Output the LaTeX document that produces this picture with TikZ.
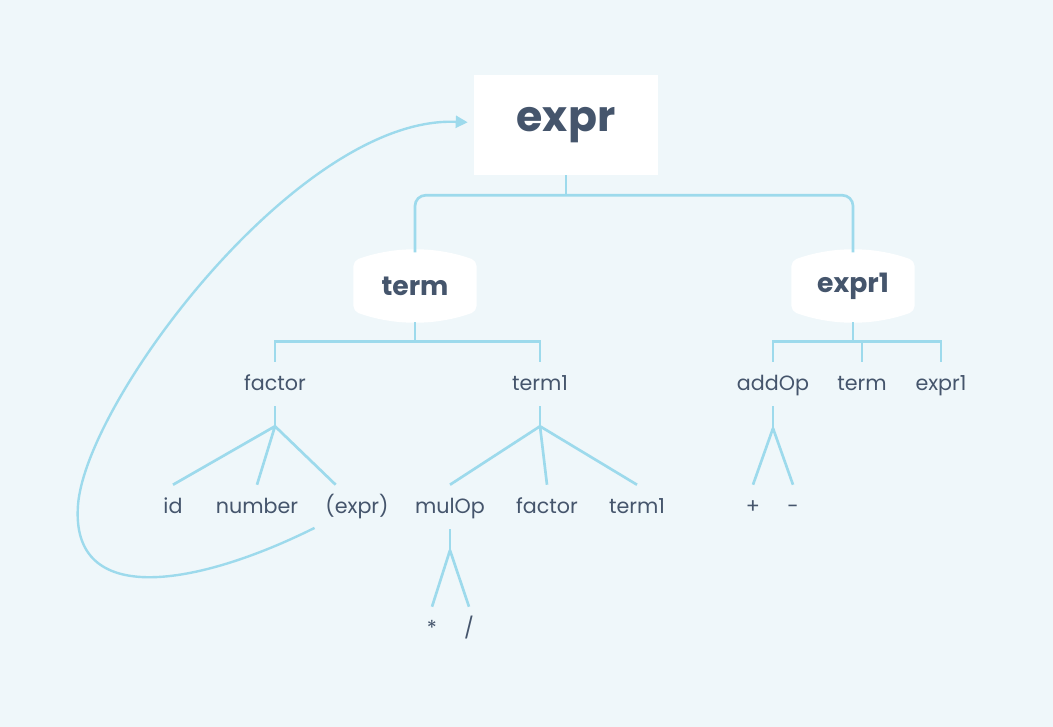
\documentclass[tikz,border=0pt]{standalone}
\usepackage{fontspec}
\setmainfont{Poppins}
\usepackage{tikz}
\usetikzlibrary{arrows.meta,positioning,calc}
\definecolor{bgpale}{HTML}{EFF7FA}
\definecolor{wire}{HTML}{9DDAEC}
\definecolor{ink}{HTML}{45556C}
\tikzset{
  rootbox/.style={fill=white,minimum width=138pt,minimum height=75pt,font=\fontsize{32}{36}\selectfont\bfseries,text=ink,inner sep=0pt},
  midbox/.style={minimum width=92pt,minimum height=54pt,font=\fontsize{20}{24}\selectfont\bfseries,text=ink,inner sep=0pt},
  sym/.style={minimum height=33pt,inner sep=0pt,text height=11pt,text depth=2pt,font=\fontsize{15.5}{18}\selectfont,text=ink},
  link/.style={draw=wire,line width=2pt},
  back/.style={draw=wire,line width=1.8pt,-{Triangle[length=9pt,width=9pt]}}
}

\begin{document}
\begin{tikzpicture}[x=0.75pt,y=-0.75pt]
  \fill[bgpale] (0,0) rectangle (1053,727);

  \node[rootbox] (expr) at (566,125) {expr};
  \node[midbox] (term) at (415,286) {};
  \node[midbox] (exprone) at (853,286) {};
  % barrel shaped boxes
  \foreach \n in {term,exprone}
    \fill[white,rounded corners=4pt] ($(\n.north west)+(0,11)$) .. controls ($(\n.north west)+(41,-3.7)$) and ($(\n.north east)+(-41,-3.7)$) .. ($(\n.north east)+(0,11)$)
      -- ($(\n.south east)+(0,-11)$) .. controls ($(\n.south east)+(-41,3.7)$) and ($(\n.south west)+(41,3.7)$) .. ($(\n.south west)+(0,-11)$) -- cycle;
  \node[midbox] at (term) {term};
  \node[midbox] at (exprone) {expr1};

  % second row
  \node[sym] (factor) at (275,384) {factor};
  \node[sym] (termone) at (540,384) {term1};
  \node[sym] (addop) at (773,384) {addOp};
  \node[sym] (termb) at (862,384) {term};
  \node[sym] (exprb) at (941,384) {expr1};

  % third row
  \node[sym] (id) at (173,507) {id};
  \node[sym] (number) at (257,507) {number};
  \node[sym] (pexpr) at (357,507) {(expr)};
  \node[sym] (mulop) at (450,507) {mulOp};
  \node[sym] (factorb) at (547,507) {factor};
  \node[sym] (termonec) at (637,507) {term1};
  \node[sym] (plus) at (753,507) {+};
  \node[sym] (minus) at (793,507) {-};

  % fourth row
  \node[sym] (star) at (432,629) {*};
  \node[sym] (slash) at (469,629) {/};

  % brackets
  \draw[link] (expr.south) -- ++(0,20) coordinate (j0);
  \draw[link,rounded corners=8pt] ([yshift=-2]term.north) |- (j0) -| ([yshift=-2]exprone.north);
  \draw[link] (term.south) -- ++(0,19) coordinate (j1);
  \draw[link] (factor.north) |- (j1) -| (termone.north);
  \draw[link] (exprone.south) -- ++(0,19) coordinate (j2);
  \draw[link] (addop.north) |- (j2) -| (exprb.north);
  \draw[link] (termb.north) -- (termb.north |- j2);

  % forks
  \draw[link] (factor.south) -- ++(0,20) coordinate (f1);
  \draw[link] (f1) -- (id.north) (f1) -- (number.north) (f1) -- ([xshift=-16pt]pexpr.north);
  \draw[link] (termone.south) -- ++(0,20) coordinate (f2);
  \draw[link] (f2) -- (mulop.north) (f2) -- (factorb.north) (f2) -- (termonec.north);
  \draw[link] (addop.south) -- ++(0,22) coordinate (f3);
  \draw[link] (f3) -- (plus.north) (f3) -- (minus.north);
  \draw[link] (mulop.south) -- ++(0,21) coordinate (f4);
  \draw[link] (f4) -- (star.north) (f4) -- (slash.north);

  % recursion back to the root
  \draw[back] ([xshift=-8pt,yshift=1pt]pexpr.south west) .. controls (200,585) and (70,610) .. (78,505)
    .. controls (86,400) and (300,115) .. ([xshift=-4.5pt,yshift=2pt]expr.west);
\end{tikzpicture}
\end{document}
